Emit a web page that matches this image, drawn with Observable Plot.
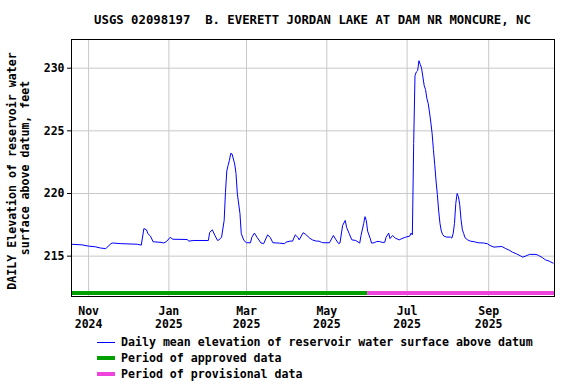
<!DOCTYPE html>
<html>
<head>
<meta charset="utf-8">
<script src="https://cdn.jsdelivr.net/npm/d3@7"></script>
<script src="https://cdn.jsdelivr.net/npm/@observablehq/plot@0.6"></script>
<style>
  html, body { margin: 0; padding: 0; background: #fff; }
  body { width: 576px; height: 384px; overflow: hidden; font-family: "DejaVu Sans Mono", monospace; font-weight: bold; color: #000; }
  #title { height: 34px; box-sizing: border-box; padding-top: 13px; padding-left: 71px; width: 554px; text-align: center; font-size: 12.3px; line-height: 14px; white-space: pre; }
  #chart svg { display: block; }
  #legend { position: relative; height: 50px; font-size: 11.6px; }
  .row { position: absolute; left: 0; height: 16px; display: flex; align-items: center; white-space: pre; }
  .sw { display: inline-block; width: 18px; margin-left: 97px; margin-right: 6px; }
</style>
</head>
<body>
<div id="title"></div>
<div id="chart"></div>
<div id="legend"></div>
<script>
const titleText = "USGS 02098197  B. EVERETT JORDAN LAKE AT DAM NR MONCURE, NC";
const yLabel1 = "DAILY Elevation of reservoir water";
const yLabel2 = "surface above datum, feet";

const dates = [
  "2024-10-19","2024-10-27","2024-11-01","2024-11-06","2024-11-10","2024-11-14","2024-11-15","2024-11-18",
  "2024-11-19","2024-11-25","2024-12-08","2024-12-11","2024-12-13","2024-12-15","2024-12-16","2024-12-18",
  "2024-12-20","2024-12-26","2024-12-28","2024-12-30","2025-01-02","2025-01-04","2025-01-15","2025-01-16",
  "2025-01-20","2025-01-31","2025-02-01","2025-02-03","2025-02-05","2025-02-07","2025-02-08","2025-02-10",
  "2025-02-12","2025-02-13","2025-02-14","2025-02-15","2025-02-16","2025-02-17","2025-02-18","2025-02-20",
  "2025-02-21","2025-02-22","2025-02-24","2025-02-25","2025-02-27","2025-03-01","2025-03-04","2025-03-05",
  "2025-03-07","2025-03-09","2025-03-12","2025-03-14","2025-03-17","2025-03-19","2025-03-21","2025-03-26",
  "2025-03-30","2025-03-31","2025-04-03","2025-04-05","2025-04-07","2025-04-09","2025-04-10","2025-04-13",
  "2025-04-15","2025-04-18","2025-04-20","2025-04-23","2025-04-25","2025-04-27","2025-04-28","2025-05-03",
  "2025-05-06","2025-05-08","2025-05-10","2025-05-11","2025-05-13","2025-05-15","2025-05-16","2025-05-18",
  "2025-05-20","2025-05-23","2025-05-26","2025-05-27","2025-05-29","2025-05-30","2025-05-31","2025-06-01",
  "2025-06-03","2025-06-04","2025-06-06","2025-06-08","2025-06-10","2025-06-12","2025-06-14","2025-06-15",
  "2025-06-17","2025-06-18","2025-06-20","2025-06-22","2025-06-25","2025-06-27","2025-06-30","2025-07-03",
  "2025-07-04","2025-07-05","2025-07-06","2025-07-07","2025-07-08","2025-07-09","2025-07-10","2025-07-11",
  "2025-07-12","2025-07-13","2025-07-14","2025-07-15","2025-07-16","2025-07-17","2025-07-18","2025-07-19",
  "2025-07-20","2025-07-21","2025-07-22","2025-07-23","2025-07-24","2025-07-25","2025-07-26","2025-07-27",
  "2025-07-28","2025-07-29","2025-07-31","2025-08-03","2025-08-04","2025-08-05","2025-08-06","2025-08-07",
  "2025-08-08","2025-08-09","2025-08-10","2025-08-11","2025-08-12","2025-08-13","2025-08-14","2025-08-16",
  "2025-08-18","2025-08-21","2025-08-24","2025-08-28","2025-08-31","2025-09-02","2025-09-05","2025-09-08",
  "2025-09-11","2025-09-14","2025-09-17","2025-09-19","2025-09-22","2025-09-25","2025-09-27","2025-09-30",
  "2025-10-02","2025-10-07","2025-10-09","2025-10-12","2025-10-14","2025-10-17","2025-10-20"
];
const elevation = [
  215.95,215.9,215.8,215.75,215.65,215.6,215.7,216.0,
  216.05,216.0,215.95,215.88,217.2,217.1,216.8,216.6,
  216.15,216.1,216.05,216.15,216.5,216.35,216.33,216.2,
  216.25,216.25,216.9,217.1,216.65,216.25,216.3,216.5,
  217.85,220.1,221.8,222.25,222.65,223.2,223.15,222.35,
  221.6,220.0,218.4,216.8,216.25,216.07,216.07,216.5,
  216.84,216.5,216.05,216.0,216.7,216.5,216.07,216.04,
  215.99,216.12,216.2,216.2,216.7,216.5,216.3,216.87,
  216.73,216.44,216.3,216.2,216.2,216.1,216.07,216.07,
  216.65,216.3,216.0,216.05,217.45,217.85,217.3,216.8,
  216.3,216.25,216.04,216.65,217.6,218.15,217.85,217.0,
  216.4,216.04,216.07,216.17,216.17,216.1,216.1,216.5,
  216.84,216.4,216.65,216.44,216.3,216.4,216.52,216.6,
  216.84,216.7,224.0,229.4,229.7,229.8,230.6,230.3,
  230.0,229.3,228.6,228.3,227.6,227.2,226.5,225.7,
  224.8,223.5,222.3,221.0,219.9,218.6,217.6,217.0,
  216.73,216.6,216.52,216.52,216.44,216.8,217.6,219.2,
  220.0,219.75,219.1,217.9,217.1,216.8,216.47,216.3,
  216.2,216.15,216.07,216.05,215.99,215.85,215.72,215.75,
  215.77,215.6,215.45,215.32,215.19,215.03,214.92,215.05,
  215.14,215.14,215.05,214.87,214.71,214.6,214.44
];

const periodNames = ["Period of approved data", "Period of provisional data"];
const periodStart = ["2024-10-19", "2025-06-01"];
const periodEnd = ["2025-06-01", "2025-10-21"];
const periodColors = ["#00a000", "#ee44dd"];

const xTicks = ["2024-11-01","2025-01-01","2025-03-01","2025-05-01","2025-07-01","2025-09-01"];
const yTicks = [215, 220, 225, 230];
const lineName = "Daily mean elevation of reservoir water surface above datum";
const lineColor = "#0000ff";

const parse = d3.utcParse("%Y-%m-%d");
const series = dates.map((d, i) => ({date: parse(d), value: elevation[i]}));
const periods = periodNames.map((n, i) => ({name: n, start: parse(periodStart[i]), end: parse(periodEnd[i]), color: periodColors[i]}));
const xTickDates = xTicks.map(parse);
const yDomain = [211.78, 232.29];
const fmt = d => d3.utcFormat("%b")(d) + "\n" + d3.utcFormat("%Y")(d);

document.getElementById("title").textContent = titleText;

const plot = Plot.plot({
  width: 576,
  height: 300,
  marginTop: 5,
  marginBottom: 38,
  marginLeft: 71,
  marginRight: 22,
  style: {fontFamily: "DejaVu Sans Mono, monospace", fontWeight: "bold", fontSize: "11.5px", color: "#000", background: "#fff", overflow: "visible"},
  x: {type: "utc", domain: [parse("2024-10-19"), parse("2025-10-21")]},
  y: {domain: yDomain},
  marks: [
    Plot.gridX(xTickDates, {stroke: "#c8c8c8", strokeOpacity: 1, strokeWidth: 1}),
    Plot.gridY(yTicks, {stroke: "#c8c8c8", strokeOpacity: 1, strokeWidth: 1}),
    Plot.axisY({ticks: yTicks, tickSize: 4, tickPadding: 3, label: null, fontSize: "11.5px"}),
    Plot.axisX({ticks: xTickDates, tickFormat: fmt, tickSize: 0, tickPadding: 9, label: null, lineHeight: 1.15, fontSize: "11.5px"}),
    Plot.ruleY(periods, {x1: "start", x2: "end", y: () => yDomain[0], dy: -3.5, stroke: "color", strokeWidth: 4}),
    Plot.line(series, {x: "date", y: "value", stroke: lineColor, strokeWidth: 1}),
    Plot.frame({stroke: "#000", strokeWidth: 1}),
    Plot.text([yLabel1], {frameAnchor: "left", textAnchor: "middle", rotate: -90, dx: -59, dy: 3, fontSize: "11.6px", fontWeight: "bold"}),
    Plot.text([yLabel2], {frameAnchor: "left", textAnchor: "middle", rotate: -90, dx: -46, dy: 0, fontSize: "11.6px", fontWeight: "bold"})
  ]
});
document.getElementById("chart").appendChild(plot);

const legend = document.getElementById("legend");
const items = [
  {label: lineName, color: lineColor, h: 1},
  {label: periods[0].name, color: periods[0].color, h: 4},
  {label: periods[1].name, color: periods[1].color, h: 4}
];
items.forEach((it, i) => {
  const row = document.createElement("div");
  row.className = "row";
  row.style.top = (0 + i * 16) + "px";
  const sw = document.createElement("span");
  sw.className = "sw";
  sw.style.height = it.h + "px";
  sw.style.background = it.color;
  const tx = document.createElement("span");
  tx.textContent = it.label;
  row.appendChild(sw);
  row.appendChild(tx);
  legend.appendChild(row);
});
</script>
</body>
</html>
